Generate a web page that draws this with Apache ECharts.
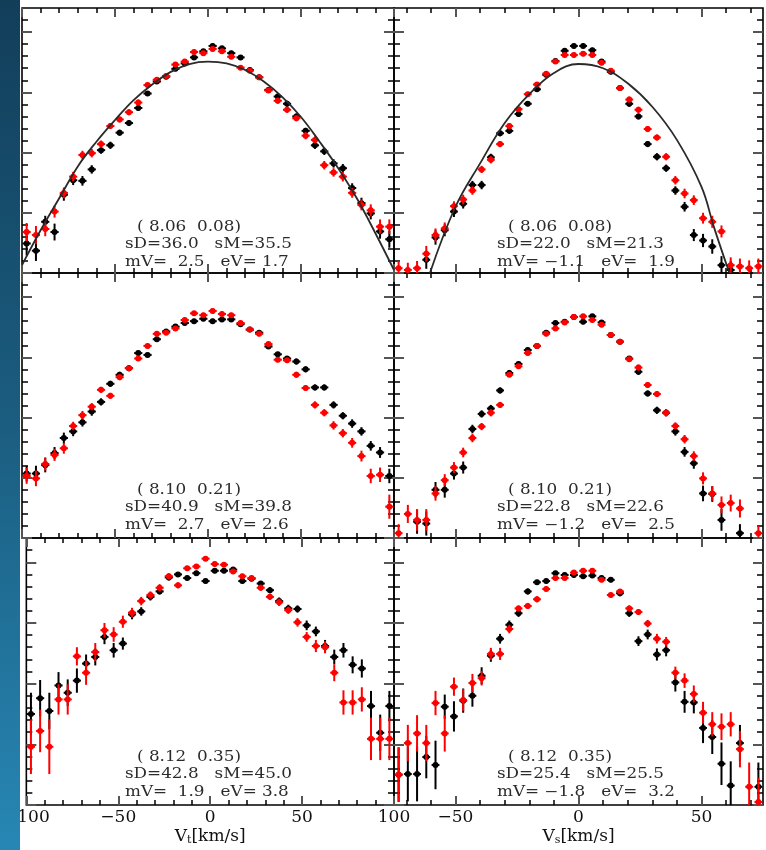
<!DOCTYPE html>
<html><head><meta charset="utf-8">
<script src="https://cdn.jsdelivr.net/npm/echarts@6/dist/echarts.min.js"></script>
<style>html,body{margin:0;padding:0;background:#fff}#c{width:766px;height:850px}</style>
</head><body><div id="c"></div>
<script>
// ---- bin centres (km/s) ----
const vLeft = [-97.5,-92.5,-87.5,-82.5,-77.5,-72.5,-67.5,-62.5,-57.5,-52.5,-47.5,-42.5,-37.5,-32.5,-27.5,-22.5,-17.5,-12.5,-7.5,-2.5,2.5,7.5,12.5,17.5,22.5,27.5,32.5,37.5,42.5,47.5,52.5,57.5,62.5,67.5,72.5,77.5,82.5,87.5,92.5,97.5];
const vRight = [-73.125,-69.375,-65.625,-61.875,-58.125,-54.375,-50.625,-46.875,-43.125,-39.375,-35.625,-31.875,-28.125,-24.375,-20.625,-16.875,-13.125,-9.375,-5.625,-1.875,1.875,5.625,9.375,13.125,16.875,20.625,24.375,28.125,31.875,35.625,39.375,43.125,46.875,50.625,54.375,58.125,61.875,65.625,69.375,73.125];
const halfBinLeft = 2.2, halfBinRight = 1.6;

// ---- top-left (Vt, 8.06 0.08) ----
const tlBlack = [0.49,0.37,0.85,0.68,1.30,1.54,1.53,1.72,2.04,2.12,2.33,2.49,2.74,2.98,3.18,3.26,3.39,3.48,3.58,3.68,3.77,3.73,3.65,3.58,3.37,3.25,3.04,2.93,2.81,2.60,2.36,2.12,2.02,1.82,1.74,1.41,1.16,0.99,0.69,0.56];
const tlBlackErr = [0.2,0.17,0.1,0.14,0.1,0.08,0.08,0.07,0.06,0.06,0.05,0.05,0.05,0.04,0.04,0.04,0.04,0.04,0.04,0.04,0.04,0.04,0.04,0.04,0.04,0.04,0.04,0.05,0.05,0.05,0.05,0.06,0.06,0.07,0.07,0.08,0.09,0.1,0.12,0.14];
const tlRed = [0.68,0.63,0.73,1.02,1.33,1.60,1.96,1.99,2.14,2.44,2.55,2.67,2.83,3.12,3.21,3.27,3.46,3.51,3.67,3.65,3.72,3.68,3.59,3.41,3.36,3.25,3.03,2.86,2.71,2.57,2.28,2.21,1.79,1.67,1.60,1.33,1.13,1.04,0.77,0.77];
const tlRedErr = [0.15,0.15,0.12,0.1,0.09,0.08,0.07,0.07,0.06,0.05,0.05,0.05,0.05,0.04,0.04,0.04,0.04,0.04,0.04,0.04,0.04,0.04,0.04,0.04,0.04,0.04,0.04,0.05,0.05,0.05,0.06,0.06,0.07,0.07,0.08,0.08,0.09,0.1,0.12,0.12];
const tlModelV = [-100,-90,-80,-70,-60,-50,-40,-30,-20,-10,0,10,20,30,40,50,60,70,80,90,100];
const tlModel = [0.13,0.71,1.24,1.77,2.18,2.54,2.87,3.13,3.34,3.47,3.51,3.48,3.37,3.18,2.92,2.59,2.18,1.74,1.24,0.66,0.05];

// ---- top-right (Vs, 8.06 0.08) ----
const trBlack = [null,null,null,0.22,0.59,0.71,1.02,1.15,1.46,1.46,1.92,2.32,2.36,2.64,2.81,3.05,3.29,3.52,3.69,3.77,3.77,3.70,3.51,3.34,3.07,2.81,2.60,2.14,1.93,1.74,1.37,1.10,0.63,0.54,0.44,0.13,0.05,null,null,null];
const trBlackErr = [0,0,0,0.15,0.12,0.1,0.09,0.08,0.07,0.07,0.06,0.05,0.05,0.05,0.04,0.04,0.04,0.04,0.04,0.04,0.04,0.04,0.04,0.04,0.04,0.05,0.05,0.05,0.06,0.06,0.07,0.08,0.1,0.11,0.12,0.15,0.15,0,0,0];
const trRed = [0.08,0.05,0.08,0.32,0.63,0.74,1.11,1.22,1.37,1.72,1.88,2.14,2.44,2.72,2.97,3.13,3.31,3.51,3.62,3.62,3.64,3.62,3.49,3.36,3.07,2.88,2.71,2.39,2.25,1.93,1.54,1.32,1.21,0.91,0.85,0.69,0.13,0.11,0.08,0.11];
const trRedErr = [0.12,0.12,0.12,0.13,0.11,0.1,0.08,0.08,0.07,0.06,0.06,0.05,0.05,0.04,0.04,0.04,0.04,0.04,0.04,0.04,0.04,0.04,0.04,0.04,0.04,0.05,0.05,0.05,0.05,0.06,0.07,0.08,0.08,0.09,0.1,0.1,0.13,0.13,0.13,0.13];
const trModelV = [-60.4,-50,-40,-30,-20,-10,0,10,20,30,40,50,55,60,61.5];
const trModel = [0,1.10,1.82,2.49,2.97,3.32,3.47,3.40,3.15,2.76,2.21,1.43,0.77,0.16,0];

// ---- middle-left (Vt, 8.10 0.21) ----
const mlBlack = [1.07,1.07,1.21,1.41,1.66,1.77,1.92,2.10,2.26,2.56,2.71,2.82,3.07,3.04,3.30,3.43,3.51,3.57,3.60,3.64,3.60,3.63,3.63,3.55,3.46,3.41,3.18,3.05,2.98,2.93,2.80,2.50,2.50,2.21,2.03,1.90,1.77,1.53,1.42,1.03];
const mlBlackErr = [0.13,0.13,0.12,0.1,0.09,0.08,0.07,0.07,0.06,0.05,0.05,0.05,0.04,0.04,0.04,0.04,0.04,0.04,0.04,0.04,0.04,0.04,0.04,0.04,0.04,0.04,0.04,0.04,0.04,0.05,0.05,0.05,0.05,0.06,0.06,0.07,0.07,0.08,0.09,0.12];
const mlRed = [1.03,0.99,1.23,1.38,1.49,1.86,2.04,2.18,2.46,2.36,2.67,2.82,2.98,3.19,3.39,3.41,3.48,3.62,3.73,3.70,3.77,3.72,3.70,3.57,3.46,3.39,3.22,2.96,2.95,2.71,2.49,2.21,2.08,1.87,1.74,1.58,1.36,1.03,1.05,0.52];
const mlRedErr = [0.13,0.13,0.11,0.1,0.09,0.07,0.07,0.06,0.05,0.05,0.05,0.04,0.04,0.04,0.04,0.04,0.04,0.04,0.04,0.04,0.04,0.04,0.04,0.04,0.04,0.04,0.04,0.04,0.04,0.05,0.05,0.06,0.06,0.07,0.07,0.08,0.09,0.12,0.12,0.2];

// ---- middle-right (Vs, 8.10 0.21) ----
const mrBlack = [null,null,0.27,0.24,0.80,0.80,1.07,1.17,1.81,2.06,2.15,2.45,2.74,2.89,3.12,3.19,3.41,3.57,3.59,3.67,3.59,3.68,3.58,3.37,3.26,2.98,2.76,2.40,2.12,2.08,1.77,1.43,1.24,0.74,0.73,0.30,null,0.08,null,null];
const mrBlackErr = [0,0,0.2,0.2,0.13,0.13,0.1,0.1,0.07,0.06,0.06,0.05,0.05,0.04,0.04,0.04,0.04,0.04,0.04,0.04,0.04,0.04,0.04,0.04,0.04,0.04,0.05,0.05,0.06,0.06,0.07,0.08,0.09,0.13,0.13,0.18,0,0.15,0,0];
const mrRed = [0.08,0.40,0.30,0.30,0.74,0.96,1.17,1.42,1.66,1.85,2.08,2.21,2.71,2.85,3.07,3.19,3.39,3.48,3.58,3.67,3.68,3.62,3.54,3.37,3.26,2.97,2.83,2.54,2.39,2.08,1.86,1.64,1.36,0.99,0.74,0.55,0.58,0.49,null,0.08];
const mrRedErr = [0.15,0.15,0.18,0.18,0.12,0.1,0.09,0.08,0.07,0.06,0.06,0.05,0.04,0.04,0.04,0.04,0.04,0.04,0.04,0.04,0.04,0.04,0.04,0.04,0.04,0.04,0.05,0.05,0.05,0.06,0.06,0.07,0.08,0.1,0.12,0.14,0.14,0.15,0,0.12];

// ---- bottom-left (Vt, 8.12 0.35) ----
const blBlack = [1.50,1.76,1.55,1.97,1.85,2.05,2.33,2.44,2.77,2.55,2.66,3.14,3.19,3.43,3.52,3.75,3.80,3.74,3.82,3.69,3.86,3.86,3.88,3.69,3.73,3.65,3.54,3.36,3.24,3.23,2.96,2.86,2.62,2.44,2.55,2.31,2.25,1.63,1.19,1.63];
const blBlackErr = [0.35,0.3,0.3,0.22,0.22,0.2,0.15,0.14,0.12,0.12,0.1,0.08,0.07,0.06,0.05,0.05,0.04,0.04,0.04,0.04,0.04,0.04,0.04,0.04,0.04,0.04,0.05,0.06,0.06,0.06,0.08,0.08,0.1,0.12,0.12,0.14,0.15,0.25,0.3,0.25];
const blRed = [0.96,1.22,0.96,1.74,1.74,2.45,2.18,2.52,2.88,2.81,3.02,3.17,3.36,3.46,3.58,3.77,3.62,3.90,3.93,4.06,3.97,3.96,3.85,3.77,3.74,3.58,3.43,3.34,3.21,3.01,2.77,2.62,2.60,2.18,1.69,1.69,1.74,1.09,1.09,1.09];
const blRedErr = [0.45,0.35,0.45,0.25,0.25,0.15,0.2,0.15,0.12,0.12,0.1,0.08,0.07,0.06,0.06,0.05,0.05,0.04,0.04,0.04,0.04,0.04,0.04,0.04,0.04,0.05,0.05,0.06,0.06,0.07,0.08,0.1,0.1,0.14,0.2,0.2,0.2,0.35,0.35,0.35];

// ---- bottom-right (Vs, 8.12 0.35) ----
const brBlack = [0.50,0.51,0.51,0.79,0.66,1.62,1.46,1.72,1.80,2.13,2.46,2.74,2.97,3.16,3.52,3.67,3.69,3.82,3.79,3.79,3.77,3.78,3.74,3.71,3.49,3.16,2.70,2.81,2.48,2.55,2.02,1.70,1.69,1.27,1.12,0.68,0.32,1.02,null,0.30];
const brBlackErr = [0.45,0.45,0.45,0.35,0.4,0.2,0.25,0.2,0.18,0.14,0.1,0.08,0.07,0.06,0.05,0.04,0.04,0.04,0.04,0.04,0.04,0.04,0.04,0.04,0.05,0.06,0.08,0.08,0.1,0.1,0.15,0.18,0.18,0.25,0.28,0.35,0.4,0.3,0,0.4];
const brRed = [0.50,1.02,1.18,1.02,1.68,1.18,1.95,1.73,2.01,2.09,2.49,2.49,2.90,3.24,3.28,3.39,3.56,3.74,3.74,3.83,3.86,3.86,3.71,3.46,3.52,3.24,3.18,2.99,2.74,2.69,2.18,2.05,1.83,1.52,1.33,1.29,1.33,0.92,0.30,0.05];
const brRedErr = [0.45,0.3,0.3,0.3,0.2,0.3,0.15,0.18,0.15,0.12,0.1,0.1,0.07,0.05,0.05,0.05,0.04,0.04,0.04,0.04,0.04,0.04,0.04,0.04,0.04,0.05,0.05,0.06,0.08,0.08,0.1,0.12,0.14,0.18,0.2,0.22,0.2,0.3,0.4,0.4];

// ---- panel annotations ----
const notesTL = ['( 8.06  0.08)', 'sD=36.0   sM=35.5', 'mV=  2.5   eV= 1.7'];
const notesTR = ['( 8.06  0.08)', 'sD=22.0   sM=21.3', 'mV= \u22121.1   eV=  1.9'];
const notesML = ['( 8.10  0.21)', 'sD=40.9   sM=39.8', 'mV=  2.7   eV= 2.6'];
const notesMR = ['( 8.10  0.21)', 'sD=22.8   sM=22.6', 'mV= \u22121.2   eV=  2.5'];
const notesBL = ['( 8.12  0.35)', 'sD=42.8   sM=45.0', 'mV=  1.9   eV= 3.8'];
const notesBR = ['( 8.12  0.35)', 'sD=25.4   sM=25.5', 'mV= \u22121.8   eV=  3.2'];

// ---- ticks ----
const xMajorLeft = [-100,-50,0,50,100];
const xMinorLeft = [-90,-80,-70,-60,-40,-30,-20,-10,10,20,30,40,60,70,80,90];
const xMajorRight = [-50,0,50];
const xMinorRight = [-70,-60,-40,-30,-20,-10,10,20,30,40,60,70];
const yMajor = [0,1,2,3,4];
const yMinor = [0.2,0.4,0.6,0.8,1.2,1.4,1.6,1.8,2.2,2.4,2.6,2.8,3.2,3.4,3.6,3.8,4.2];
const xTitleLeft = '{v|V}{s|t}{v|[km/s]}';
const xTitleRight = '{v|V}{s|s}{v|[km/s]}';

const FONT = 'DejaVu Serif';
const panels = [
  {g:{left:22,top:8,width:372,height:265}, side:'L', bottom:false, b:tlBlack, be:tlBlackErr, r:tlRed, re:tlRedErr, mv:tlModelV, m:tlModel, notes:notesTL, nx:[137,125,125], ny:227},
  {g:{left:394,top:8,width:369,height:265}, side:'R', bottom:false, b:trBlack, be:trBlackErr, r:trRed, re:trRedErr, mv:trModelV, m:trModel, notes:notesTR, nx:[508,497,497], ny:227},
  {g:{left:22,top:273,width:372,height:265}, side:'L', bottom:false, b:mlBlack, be:mlBlackErr, r:mlRed, re:mlRedErr, notes:notesML, nx:[137,125,125], ny:490},
  {g:{left:394,top:273,width:369,height:265}, side:'R', bottom:false, b:mrBlack, be:mrBlackErr, r:mrRed, re:mrRedErr, notes:notesMR, nx:[508,497,497], ny:490},
  {g:{left:22,top:538,width:372,height:267}, side:'L', bottom:true, b:blBlack, be:blBlackErr, r:blRed, re:blRedErr, notes:notesBL, nx:[137,125,125], ny:757},
  {g:{left:394,top:538,width:369,height:267}, side:'R', bottom:true, b:brBlack, be:brBlackErr, r:brRed, re:brRedErr, notes:notesBR, nx:[508,497,497], ny:757}
];

const grids = [], xAxes = [], yAxes = [], series = [], graphics = [];

function fmt(v){ return v < 0 ? '\u2212' + Math.abs(v) : String(v); }

panels.forEach((p, gi) => {
  grids.push(Object.assign({show:true, borderColor:'#000', borderWidth:1.6, containLabel:false}, p.g));
  const L = p.side === 'L';
  const xmin = L ? -100 : -75, xmax = L ? 100 : 75;
  const major = L ? xMajorLeft : xMajorRight, minor = L ? xMinorLeft : xMinorRight;
  const xi = xAxes.length;
  const baseX = {type:'value', gridIndex:gi, min:xmin, max:xmax, splitLine:{show:false}, axisLine:{show:false, onZero:false}};
  xAxes.push(Object.assign({}, baseX, {
    position:'bottom',
    axisTick:{show:true, inside:true, length:9, customValues:major, lineStyle:{color:'#555', width:2}},
    axisLabel:{show:p.bottom, customValues:major, formatter:fmt, fontFamily:FONT, fontSize:17, color:'#111', margin:4},
    name: p.bottom ? (L ? xTitleLeft : xTitleRight) : '',
    nameLocation:'middle', nameGap:22,
    nameTextStyle:{fontFamily:FONT, fontSize:17, color:'#111', rich:{
      v:{fontFamily:FONT, fontSize:17, color:'#111'},
      s:{fontFamily:FONT, fontSize:11, color:'#111', verticalAlign:'bottom', padding:[8,0,0,0]}}}
  }));
  xAxes.push(Object.assign({}, baseX, {position:'bottom', axisTick:{show:true, inside:true, length:5, customValues:minor, lineStyle:{color:'#000', width:1.5}}, axisLabel:{show:false}}));
  xAxes.push(Object.assign({}, baseX, {position:'top', axisTick:{show:true, inside:true, length:9, customValues:major, lineStyle:{color:'#555', width:2}}, axisLabel:{show:false}}));
  xAxes.push(Object.assign({}, baseX, {position:'top', axisTick:{show:true, inside:true, length:5, customValues:minor, lineStyle:{color:'#000', width:1.5}}, axisLabel:{show:false}}));
  const yi = yAxes.length;
  const baseY = {type:'value', gridIndex:gi, min:0, max:4.4, splitLine:{show:false}, axisLine:{show:false, onZero:false}, axisLabel:{show:false}};
  yAxes.push(Object.assign({}, baseY, {position:'left', axisTick:{show:true, inside:true, length:10, customValues:yMajor, lineStyle:{color:'#555', width:2}}}));
  yAxes.push(Object.assign({}, baseY, {position:'left', axisTick:{show:true, inside:true, length:6, customValues:yMinor, lineStyle:{color:'#000', width:1.5}}}));
  yAxes.push(Object.assign({}, baseY, {position:'right', axisTick:{show:true, inside:true, length:10, customValues:yMajor, lineStyle:{color:'#555', width:2}}}));
  yAxes.push(Object.assign({}, baseY, {position:'right', axisTick:{show:true, inside:true, length:6, customValues:yMinor, lineStyle:{color:'#000', width:1.5}}}));

  const xs = L ? vLeft : vRight;
  const hw = L ? halfBinLeft : halfBinRight;
  function pts(vals, errs){ return xs.map((v,i)=> vals[i]==null ? null : [v, vals[i], errs[i]]).filter(Boolean); }
  function cross(color){
    return function(params, api){
      const x = api.value(0), y = api.value(1), e = api.value(2);
      const c = api.coord([x, y]);
      const t = api.coord([x, y + e]);
      const b = api.coord([x, y - e]);
      const l = api.coord([x - hw, y]);
      const r = api.coord([x + hw, y]);
      return {type:'group', children:[
        {type:'line', shape:{x1:c[0], y1:t[1], x2:c[0], y2:b[1]}, style:{stroke:color, lineWidth:2}},
        {type:'line', shape:{x1:l[0], y1:c[1], x2:r[0], y2:c[1]}, style:{stroke:color, lineWidth:2}},
        {type:'circle', shape:{cx:c[0], cy:c[1], r:3}, style:{fill:color}}
      ]};
    };
  }
  series.push({type:'custom', xAxisIndex:xi, yAxisIndex:yi, clip:true, renderItem:cross('#000'), encode:{x:0, y:1}, data:pts(p.b, p.be), z:3});
  series.push({type:'custom', xAxisIndex:xi, yAxisIndex:yi, clip:true, renderItem:cross('#ff0000'), encode:{x:0, y:1}, data:pts(p.r, p.re), z:4});
  if (p.m) {
    series.push({type:'line', xAxisIndex:xi, yAxisIndex:yi, clip:true, smooth:0.4, showSymbol:false, symbol:'none',
      lineStyle:{color:'#2a2a2a', width:1.8}, data:p.mv.map((v,i)=>[v, p.m[i]]), z:5, silent:true});
  }
  p.notes.forEach((t, k) => {
    graphics.push({type:'text', x:p.nx[k], y:p.ny + k*17.5, scaleX:1.2, z:50,
      style:{text:t, fontFamily:FONT, fontSize:14, fill:'#2b2b2b', align:'left', verticalAlign:'middle'}});
  });
});

graphics.push({type:'rect', left:0, top:0, z:100, shape:{x:0, y:0, width:20, height:850},
  style:{fill:{type:'linear', x:0, y:0, x2:0, y2:1, colorStops:[{offset:0, color:'#123e5a'},{offset:0.5, color:'#1b5d80'},{offset:1, color:'#2787b4'}]}}});

const chart = echarts.init(document.getElementById('c'), null, {renderer:'canvas'});
chart.setOption({
  backgroundColor:'#fff',
  animation:false,
  grid:grids, xAxis:xAxes, yAxis:yAxes, series:series, graphic:graphics
});
</script></body></html>
